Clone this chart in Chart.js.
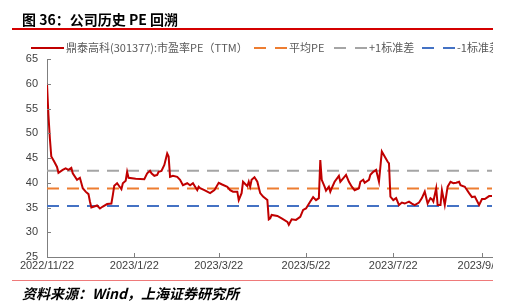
<!DOCTYPE html>
<html>
<head>
<meta charset="utf-8">
<script src="https://cdn.jsdelivr.net/npm/chart.js@4.4.0/dist/chart.umd.min.js"></script>
<style>
  html, body { margin: 0; padding: 0; width: 510px; height: 307px; overflow: hidden; background: #fff; }
  #clip { position: absolute; left: 0; top: 0; width: 493px; height: 307px; overflow: hidden; }
  #wrap { position: absolute; left: 0; top: 0; width: 540px; height: 307px; }
  .title { position: absolute; left: 22px; top: 9px; font: bold 14px "Noto Sans CJK SC", sans-serif; color: #000; white-space: nowrap; }
  .rule { position: absolute; left: 12px; width: 481px; }
  .item { position: absolute; top: 40px; white-space: nowrap; font: 11px "Noto Sans CJK SC", sans-serif; color: #595959; line-height: 15px; }
  .sw { display: inline-block; vertical-align: middle; width: 33px; height: 2px; margin-right: 2px; margin-top: -2px; }
  .source { position: absolute; left: 22px; top: 283px; font: italic bold 14px "Noto Sans CJK SC", sans-serif; color: #000; white-space: nowrap; }
</style>
</head>
<body>
<div id="clip">
  <div id="wrap"><canvas id="pe" width="540" height="307"></canvas></div>
  <div id="legend"></div>
</div>
<div class="title">图 36：公司历史 PE 回溯</div>
<div class="rule" style="top:28px;height:1.5px;background:#d40000"></div>
<div class="rule" style="top:280px;height:1px;background:#ef7a7a"></div>
<div class="source">资料来源：Wind，上海证券研究所</div>
<script>
// 起始日期与坐标轴刻度
const startDate = "2022/11/22";
const tickLabels = ["2022/11/22", "2023/1/22", "2023/3/22", "2023/5/22", "2023/7/22", "2023/9/22"];
const lastDay = 311;

// 距 2022/11/22 的天数
const dayOffset = [0, 1, 2, 3, 5, 7, 8, 11, 13, 15, 17, 18, 21, 23, 25, 27, 29, 30, 31, 33,
  35, 37, 39, 42, 45, 46, 47, 49, 50, 52, 53, 55, 56, 57, 62, 68, 70, 72, 73, 75,
  77, 78, 80, 82, 84, 85, 86, 88, 91, 93, 95, 98, 100, 102, 105, 106, 107, 110, 114, 117,
  120, 122, 126, 128, 130, 133, 134, 136, 137, 138, 140, 141, 142, 143, 145, 147, 149, 151, 154, 155,
  156, 157, 161, 164, 168, 169, 171, 174, 177, 179, 181, 184, 186, 188, 190, 191, 192, 194, 195, 197,
  198, 199, 201, 204, 205, 207, 209, 211, 213, 215, 218, 219, 221, 222, 225, 226, 228, 230, 232, 234,
  236, 238, 239, 240, 242, 244, 246, 248, 250, 253, 255, 257, 260, 262, 264, 266, 268, 269, 270, 272,
  273, 275, 276, 278, 280, 282, 284, 286, 288, 289, 292, 295, 297, 299, 302, 304, 306, 309, 311];

// 市盈率PE(TTM)
const peTTM = [60.0, 53.7, 49.0, 45.3, 44.3, 43.2, 42.0, 42.6, 42.9, 42.6, 43.0, 41.9, 40.6, 41.0, 38.9, 38.2, 37.7, 36.2, 35.0, 35.2,
  35.4, 34.8, 35.2, 35.7, 35.8, 37.5, 39.4, 39.9, 39.5, 38.7, 39.9, 40.4, 42.2, 41.0, 40.8, 40.7, 41.9, 42.4, 41.9, 41.4,
  41.6, 42.2, 42.4, 43.6, 45.9, 45.3, 41.2, 41.4, 41.2, 40.6, 39.5, 39.9, 39.5, 39.9, 38.5, 39.2, 38.9, 38.5, 37.9, 38.5,
  40.0, 39.7, 39.2, 38.5, 38.2, 38.2, 36.5, 37.9, 40.2, 39.9, 39.3, 40.2, 39.2, 40.6, 41.1, 40.2, 37.9, 37.2, 36.5, 32.6,
  32.8, 33.5, 33.3, 32.8, 32.1, 31.5, 32.6, 32.5, 33.1, 34.5, 34.8, 36.2, 37.1, 36.5, 36.9, 44.6, 40.6, 39.2, 38.4, 39.2,
  38.2, 38.9, 40.2, 41.4, 40.2, 40.9, 41.6, 40.2, 39.2, 38.5, 38.9, 40.2, 40.6, 40.0, 40.6, 41.6, 42.2, 42.6, 40.2, 46.3,
  45.3, 44.3, 43.9, 37.2, 36.5, 36.9, 35.5, 36.0, 35.8, 36.2, 35.8, 35.5, 36.0, 36.9, 38.2, 35.8, 36.9, 36.7, 36.2, 38.9,
  35.5, 35.5, 38.5, 35.5, 39.2, 40.2, 39.9, 40.0, 40.2, 39.5, 39.2, 37.9, 37.1, 37.2, 35.5, 36.7, 36.7, 37.3, 37.3];

const meanPE = 38.85;
const plusStd = 42.4;
const minusStd = 35.3;

const seriesNames = ["鼎泰高科(301377):市盈率PE（TTM）", "平均PE", "+1标准差", "-1标准差"];
const seriesColors = ["#c00000", "#ed7d31", "#a5a5a5", "#4472c4"];
const legendLeft = [31, 254, 334, 422];

const yTicks = [25, 30, 35, 40, 45, 50, 55, 60, 65];

function parseDay(s) {
  const p = s.split("/").map(Number);
  return Date.UTC(p[0], p[1] - 1, p[2]);
}
const base = parseDay(startDate);
const tickDays = tickLabels.map((s) => Math.round((parseDay(s) - base) / 86400000));

const flat = (v) => [{ x: 0, y: v }, { x: lastDay, y: v }];

// 图例
const legend = document.getElementById("legend");
seriesNames.forEach((name, i) => {
  const sw = i === 0
    ? `<span class="sw" style="background:${seriesColors[0]}"></span>`
    : `<span class="sw" style="background:repeating-linear-gradient(90deg, ${seriesColors[i]} 0 12px, transparent 12px 21px)"></span>`;
  legend.insertAdjacentHTML("beforeend", `<span class="item" style="left:${legendLeft[i]}px">${sw}${name}</span>`);
});

// 刻度向内
const innerTicks = {
  id: "innerTicks",
  afterDraw(chart) {
    const { ctx, chartArea, scales } = chart;
    ctx.save();
    ctx.strokeStyle = "#7f7f7f";
    ctx.lineWidth = 1;
    ctx.beginPath();
    scales.x.ticks.forEach((t) => {
      const px = Math.round(scales.x.getPixelForValue(t.value)) + 0.5;
      ctx.moveTo(px, chartArea.bottom);
      ctx.lineTo(px, chartArea.bottom - 4);
    });
    scales.y.ticks.forEach((t) => {
      const py = Math.round(scales.y.getPixelForValue(t.value)) + 0.5;
      ctx.moveTo(chartArea.left, py);
      ctx.lineTo(chartArea.left + 4, py);
    });
    ctx.stroke();
    ctx.restore();
  },
};

const ctx = document.getElementById("pe").getContext("2d");
new Chart(ctx, {
  type: "line",
  data: {
    datasets: [
      {
        label: seriesNames[0],
        data: dayOffset.map((d, i) => ({ x: d, y: peTTM[i] })),
        borderColor: seriesColors[0],
        borderWidth: 2,
        order: 0,
      },
      { label: seriesNames[1], data: flat(meanPE), borderColor: seriesColors[1], borderWidth: 2, borderDash: [12, 8], order: 1 },
      { label: seriesNames[2], data: flat(plusStd), borderColor: seriesColors[2], borderWidth: 2, borderDash: [12, 8], order: 1 },
      { label: seriesNames[3], data: flat(minusStd), borderColor: seriesColors[3], borderWidth: 2, borderDash: [12, 8], order: 1 },
    ],
  },
  options: {
    responsive: false,
    animation: false,
    devicePixelRatio: 1,
    layout: { padding: { top: 59, right: 48, bottom: 0, left: 0 } },
    elements: { point: { radius: 0 }, line: { tension: 0 } },
    plugins: { legend: { display: false }, tooltip: { enabled: false } },
    scales: {
      x: {
        type: "linear",
        min: 0,
        max: lastDay,
        afterFit(s) { s.height = 50; },
        afterBuildTicks(s) { s.ticks = tickDays.map((v) => ({ value: v })); },
        grid: { display: false, drawTicks: false },
        border: { color: "#7f7f7f", width: 1 },
        ticks: {
          padding: 2,
          maxRotation: 0,
          autoSkip: false,
          color: "#404040",
          font: { family: "Liberation Sans", size: 11 },
          callback: (v) => tickLabels[tickDays.indexOf(v)],
        },
      },
      y: {
        min: 25,
        max: 65,
        afterFit(s) { s.width = 47; },
        afterBuildTicks(s) { s.ticks = yTicks.map((v) => ({ value: v })); },
        grid: { display: false, drawTicks: false },
        border: { color: "#7f7f7f", width: 1 },
        ticks: {
          padding: 9,
          color: "#404040",
          font: { family: "Liberation Sans", size: 11 },
        },
      },
    },
  },
  plugins: [innerTicks],
});
</script>
</body>
</html>
